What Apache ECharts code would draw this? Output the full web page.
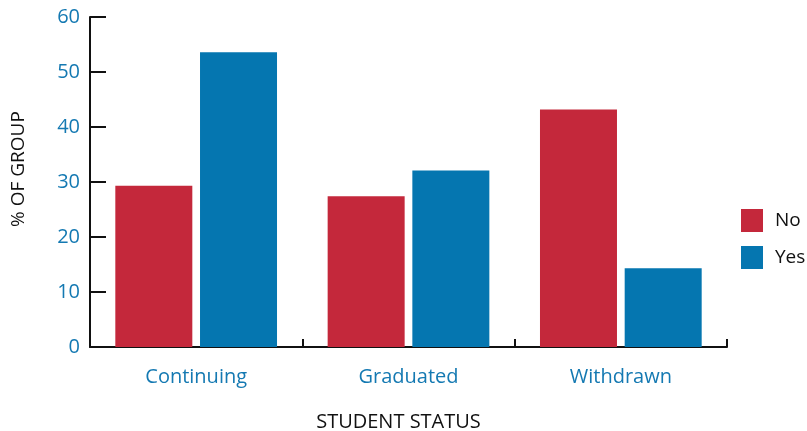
<!DOCTYPE html>
<html>
<head>
<meta charset="utf-8">
<script src="https://cdn.jsdelivr.net/npm/echarts@6/dist/echarts.min.js"></script>
<style>
  html, body { margin: 0; padding: 0; background: #fff; }
  #chart { width: 807px; height: 431px; }
</style>
</head>
<body>
<div id="chart"></div>
<script>
// Share of each group by student status
const categories = ['Continuing', 'Graduated', 'Withdrawn'];
const seriesNames = ['No', 'Yes'];
const noValues = [29.3, 27.4, 43.2];
const yesValues = [53.6, 32.1, 14.3];
const yTicks = [0, 10, 20, 30, 40, 50, 60];

const RED = '#C4283B';
const BLUE = '#0576B0';
const LABEL_BLUE = '#1479B2';
const FONT = '"Open Sans", "Noto Sans", sans-serif';

const chart = echarts.init(document.getElementById('chart'), null, { renderer: 'canvas' });

chart.setOption({
  animation: false,
  textStyle: { fontFamily: FONT },
  grid: { left: 90, right: 80, top: 17, bottom: 84, containLabel: false, outerBoundsMode: 'none' },
  legend: {
    orient: 'vertical',
    left: 741,
    top: 209,
    itemWidth: 22,
    itemHeight: 23,
    itemGap: 14,
    icon: 'rect',
    padding: 0,
    textStyle: { fontSize: 19, color: '#111', fontFamily: FONT, padding: [0, 0, 0, 7] },
    data: seriesNames
  },
  xAxis: {
    type: 'category',
    data: categories,
    name: 'STUDENT STATUS',
    nameLocation: 'middle',
    nameGap: 65,
    nameTextStyle: { fontSize: 20, color: '#111', padding: [0, 20, 0, 0], fontFamily: FONT },
    axisLine: { lineStyle: { color: '#111', width: 2 } },
    axisTick: { show: true, inside: true, length: 8, lineStyle: { color: '#111', width: 2 } },
    axisLabel: { fontSize: 20, color: LABEL_BLUE, margin: 20, fontFamily: FONT },
    splitLine: { show: false }
  },
  yAxis: {
    type: 'value',
    min: yTicks[0],
    max: yTicks[yTicks.length - 1],
    interval: yTicks[1] - yTicks[0],
    axisLine: { show: true, lineStyle: { color: '#111', width: 2 } },
    axisTick: { show: true, inside: true, length: 16, lineStyle: { color: '#111', width: 2 } },
    axisLabel: { fontSize: 20, color: LABEL_BLUE, margin: 10, padding: [7, 0, 0, 0], fontFamily: FONT },
    splitLine: { show: false }
  },
  graphic: [
    {
      type: 'text',
      x: 19,
      y: 169,
      rotation: Math.PI / 2,
      style: {
        text: '% OF GROUP',
        font: '19px ' + FONT,
        fill: '#111',
        align: 'center',
        verticalAlign: 'middle'
      }
    }
  ],
  series: [
    {
      name: seriesNames[0],
      type: 'bar',
      data: noValues,
      barWidth: 77,
      barGap: '10%',
      itemStyle: { color: RED }
    },
    {
      name: seriesNames[1],
      type: 'bar',
      data: yesValues,
      barWidth: 77,
      barGap: '10%',
      itemStyle: { color: BLUE }
    }
  ]
});
</script>
</body>
</html>
